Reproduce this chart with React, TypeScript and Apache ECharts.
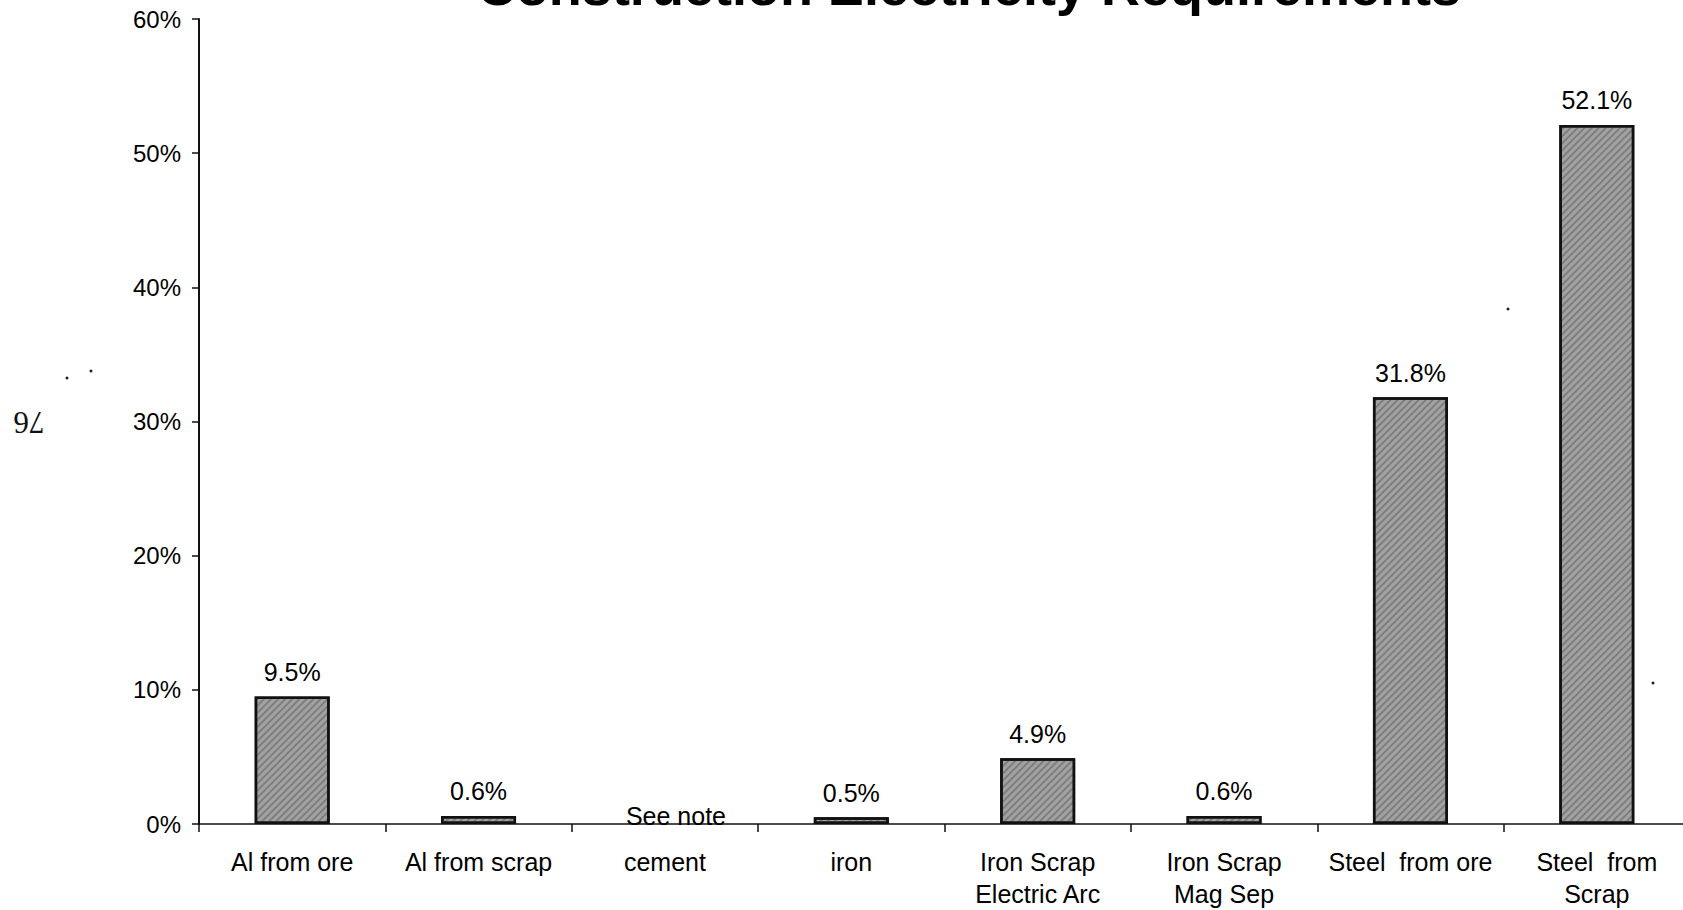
import React, { useEffect, useRef } from "react";
import * as echarts from "echarts";

const categories: string[] = [
  "Al from ore",
  "Al from scrap",
  "cement",
  "iron",
  "Iron Scrap\nElectric Arc",
  "Iron Scrap\nMag Sep",
  "Steel  from ore",
  "Steel  from\nScrap",
];
const values: number[] = [9.5, 0.6, 0, 0.5, 4.9, 0.6, 31.8, 52.1];
const valueLabels: string[] = ["9.5%", "0.6%", "See note", "0.5%", "4.9%", "0.6%", "31.8%", "52.1%"];
const yTicks = { min: 0, max: 60, interval: 10 };
const titleText = "Construction Electricity Requirements";
const pageNumber = "76";

export default function App() {
  const ref = useRef<HTMLDivElement>(null);
  useEffect(() => {
    if (!ref.current) return;
    const chart = echarts.init(ref.current, null, { renderer: "svg" });
    const font = "'Liberation Sans', Arial, Helvetica, sans-serif";
    const data = values.map((v, i) => {
      if (valueLabels[i] === "See note") {
        return {
          value: v,
          itemStyle: { color: "transparent", borderWidth: 0 },
          label: { formatter: valueLabels[i], distance: -4, offset: [11, 0] },
        };
      }
      return { value: v, label: { formatter: valueLabels[i] } };
    });
    const specks = [
      [67, 378],
      [91, 371],
      [1508, 309],
      [1653, 683],
    ].map(([x, y]) => ({
      type: "circle",
      shape: { cx: x, cy: y, r: 1.5 },
      style: { fill: "#222" },
    }));
    chart.setOption({
      animation: false,
      backgroundColor: "#ffffff",
      grid: { left: 199, right: 10, top: 19, bottom: 83, containLabel: false },
      graphic: [
        {
          type: "text",
          x: 969,
          y: -14,
          style: {
            text: titleText,
            font: `bold 54px ${font}`,
            fill: "#000",
            textAlign: "center",
            textVerticalAlign: "middle",
          },
        },
        {
          type: "text",
          x: 29,
          y: 422,
          rotation: Math.PI,
          style: {
            text: pageNumber,
            font: "31px 'Liberation Serif', serif",
            fill: "#111",
            textAlign: "center",
            textVerticalAlign: "middle",
          },
        },
        ...specks,
      ],
      xAxis: {
        type: "category",
        data: categories,
        axisLine: { lineStyle: { color: "#111", width: 1.5 } },
        axisTick: { show: true, length: 8, lineStyle: { color: "#111", width: 1.5 } },
        axisLabel: {
          color: "#000",
          fontFamily: font,
          fontSize: 25,
          lineHeight: 32,
          margin: 22,
          interval: 0,
        },
      },
      yAxis: {
        type: "value",
        min: yTicks.min,
        max: yTicks.max,
        interval: yTicks.interval,
        axisLine: { show: true, lineStyle: { color: "#111", width: 2 } },
        axisTick: { show: true, length: 7, lineStyle: { color: "#111", width: 1.5 } },
        splitLine: { show: false },
        axisLabel: {
          color: "#000",
          fontFamily: font,
          fontSize: 24,
          margin: 18,
          formatter: "{value}%",
        },
      },
      series: [
        {
          type: "bar",
          data,
          barWidth: 75,
          itemStyle: {
            color: "#a2a2a2",
            borderColor: "#111",
            borderWidth: 2.5,
            decal: {
              symbol: "rect",
              symbolSize: 1,
              dashArrayX: [1, 0],
              dashArrayY: [2, 3],
              rotation: -Math.PI / 4,
              color: "rgba(60,60,60,0.35)",
            },
          },
          label: {
            show: true,
            position: "top",
            distance: 12,
            color: "#000",
            fontFamily: font,
            fontSize: 25,
          },
        },
      ],
    });
    return () => chart.dispose();
  }, []);
  return (
    <div style={{ position: "absolute", left: 0, top: 0, width: 1683, height: 910, overflow: "hidden" }}>
      <div ref={ref} style={{ width: 1700, height: 910 }} />
    </div>
  );
}
